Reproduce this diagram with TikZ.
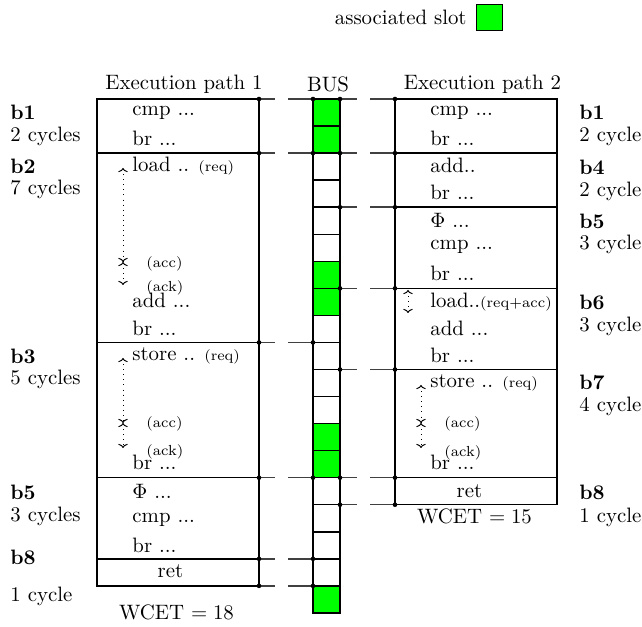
\documentclass[tikz,border=0pt]{standalone}
\usetikzlibrary{arrows.meta}
\begin{document}
\begin{tikzpicture}[x=0.48pt,y=-0.48pt,
  frame/.style={line width=0.7pt},
  link/.style={line width=0.7pt, draw=black!75, dash pattern=on 12pt off 6.24pt},
  instr/.style={anchor=mid west, inner sep=0pt},
  centred/.style={anchor=mid, inner sep=0pt},
  tag/.style={anchor=mid west, inner sep=0pt, font=\scriptsize},
  blk/.style={anchor=mid west, inner sep=0pt, font=\bfseries},
  cyc/.style={anchor=mid west, inner sep=0pt},
  head/.style={anchor=base, inner sep=0pt},
  dep/.style={dotted, line width=0.45pt, {To[length=2pt,width=4.6pt]}-{To[length=2pt,width=4.6pt]}},
  slotfree/.style={frame, fill=white},
  slotbusy/.style={frame, fill=green}
]
\useasboundingbox (0,0) rectangle (642,627);
\def\s{27.05}
% legend
\node[draw, line width=0.7pt, fill=green, minimum size=12.6pt, inner sep=0pt] (legbox) at (489.5,17.5) {};
\node[anchor=base east, inner sep=0pt] (legtext) at (467,25) {associated slot};
% headers
\node[head] (h1) at (184,89.5) {Execution path 1};
\node[head] (hbus) at (328,92) {BUS};
\node[head] (h2) at (482.5,89.5) {Execution path 2};
% bus slots
\foreach \i in {0,...,18} {
  \pgfmathsetmacro{\ya}{99+\s*\i}
  \pgfmathsetmacro{\yb}{99+\s*(\i+1)}
  \draw[slotfree] (313,\ya) rectangle (340,\yb);
}
\foreach \i in {0,1,6,7,12,13,18} {
  \pgfmathsetmacro{\ya}{99+\s*\i}
  \pgfmathsetmacro{\yb}{99+\s*(\i+1)}
  \draw[slotbusy] (313,\ya) rectangle (340,\yb);
}
% path 1 frame
\draw[frame] (97,99) rectangle (259,{99+\s*18});
\foreach \k in {2,9,14,17} {
  \draw[frame] (97,{99+\s*\k}) -- (259,{99+\s*\k});
}
% path 2 frame
\draw[frame] (395,99) rectangle (557,{99+\s*15});
\foreach \k in {2,4,7,10,14} {
  \draw[frame] (395,{99+\s*\k}) -- (557,{99+\s*\k});
}
% links path 1 -> bus
\foreach \k in {0,2,9,14,17,18} {
  \coordinate (L\k) at (259,{99+\s*\k});
  \coordinate (BL\k) at (313,{99+\s*\k});
  \draw[link] (BL\k) -- (L\k);
  \fill (L\k) circle (1.1pt);
  \fill (BL\k) circle (1.1pt);
}
% links path 2 -> bus
\foreach \k in {0,2,4,7,10,14,15} {
  \coordinate (R\k) at (395,{99+\s*\k});
  \coordinate (BR\k) at (340,{99+\s*\k});
  \draw[link] (R\k) -- (BR\k);
  \fill (R\k) circle (1.1pt);
  \fill (BR\k) circle (1.1pt);
}
% path 1 instructions
\node[instr] (p1a) at (132,111) {cmp ...};
\node[instr] (p1b) at (132,141) {br ...};
\node[instr] (p1c) at (132,167) {load .. {\scriptsize (req)}};
\node[tag] (p1d) at (146,263) {(acc)};
\node[tag] (p1e) at (146,287) {(ack)};
\node[instr] (p1f) at (132,303) {add ...};
\node[instr] (p1g) at (132,331) {br ...};
\node[instr] (p1h) at (132,356) {store .. {\scriptsize (req)}};
\node[tag] (p1i) at (146,423) {(acc)};
\node[tag] (p1j) at (146,451) {(ack)};
\node[instr] (p1k) at (132,465) {br ...};
\node[instr] (p1l) at (132,494) {$\Phi$ ...};
\node[instr] (p1m) at (132,518) {cmp ...};
\node[instr] (p1n) at (132,548) {br ...};
\node[centred] (p1ret) at (170.5,573) {ret};
\node[centred] (wcet1) at (176.5,615) {WCET $=18$};
% path 1 dependency arrows
\coordinate (q1r) at (123,168);
\coordinate (q1a) at (123,262);
\coordinate (q1k) at (123,285);
\draw[dep] (q1r) -- (q1a);
\draw[dep] (q1a) -- (q1k);
\coordinate (q2r) at (123,358);
\coordinate (q2a) at (123,423);
\coordinate (q2k) at (123,448);
\draw[dep] (q2r) -- (q2a);
\draw[dep] (q2a) -- (q2k);
% path 2 instructions
\node[instr] (p2a) at (430,111) {cmp ...};
\node[instr] (p2b) at (430,141) {br ...};
\node[instr] (p2c) at (430,168) {add..};
\node[instr] (p2d) at (430,195) {br ...};
\node[instr] (p2e) at (430,223) {$\Phi$ ...};
\node[instr] (p2f) at (430,245) {cmp ...};
\node[instr] (p2g) at (430,276) {br ...};
\node[instr] (p2h) at (430,303) {load..{\scriptsize (req+acc)}};
\node[instr] (p2i) at (430,331) {add ...};
\node[instr] (p2j) at (430,358) {br ...};
\node[instr] (p2k) at (430,383) {store .. {\scriptsize (req)}};
\node[tag] (p2l) at (444,423) {(acc)};
\node[tag] (p2m) at (444,452) {(ack)};
\node[instr] (p2n) at (430,465) {br ...};
\node[centred] (p2ret) at (469.5,493) {ret};
\node[centred] (wcet2) at (474.5,519) {WCET $=15$};
% path 2 dependency arrows
\coordinate (q3r) at (408,290);
\coordinate (q3k) at (408,313);
\draw[dep] (q3r) -- (q3k);
\coordinate (q4r) at (421,385);
\coordinate (q4a) at (421,423);
\coordinate (q4k) at (421,448);
\draw[dep] (q4r) -- (q4a);
\draw[dep] (q4a) -- (q4k);
% left block labels
\node[blk] (lb1) at (10,115) {b1};
\node[cyc] (lc1) at (10,137) {2 cycles};
\node[blk] (lb2) at (10,169) {b2};
\node[cyc] (lc2) at (10,190) {7 cycles};
\node[blk] (lb3) at (10,359) {b3};
\node[cyc] (lc3) at (10,380) {5 cycles};
\node[blk] (lb5) at (10,495) {b5};
\node[cyc] (lc5) at (10,517) {3 cycles};
\node[blk] (lb8) at (10,560) {b8};
\node[cyc] (lc8) at (10,597) {1 cycle};
% right block labels
\node[blk] (rb1) at (579,115) {b1};
\node[cyc] (rc1) at (579,137) {2 cycle};
\node[blk] (rb4) at (579,170) {b4};
\node[cyc] (rc4) at (579,192) {2 cycle};
\node[blk] (rb5) at (579,224) {b5};
\node[cyc] (rc5) at (579,245) {3 cycle};
\node[blk] (rb6) at (579,305) {b6};
\node[cyc] (rc6) at (579,327) {3 cycle};
\node[blk] (rb7) at (579,385) {b7};
\node[cyc] (rc7) at (579,407) {4 cycle};
\node[blk] (rb8) at (579,495) {b8};
\node[cyc] (rc8) at (579,518) {1 cycle};
\end{tikzpicture}
\end{document}
